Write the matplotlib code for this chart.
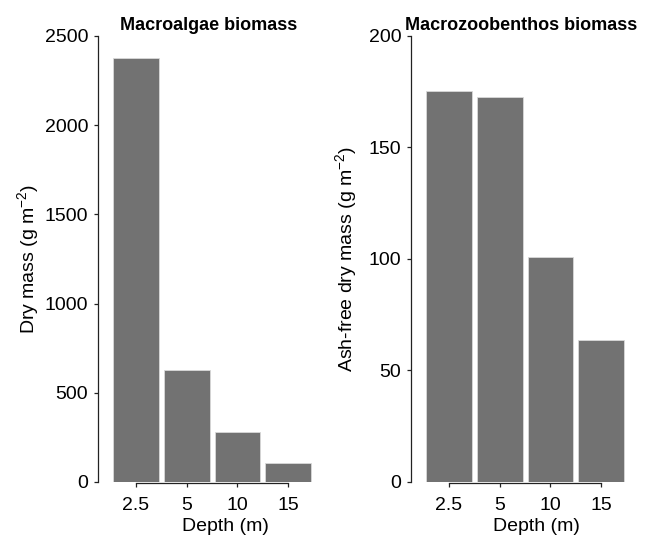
import numpy as np
import matplotlib
matplotlib.use("Agg")
import matplotlib.pyplot as plt

plt.rcParams['font.family'] = ['Liberation Sans', 'DejaVu Sans']
plt.rcParams['mathtext.fontset'] = 'custom'
plt.rcParams['mathtext.rm'] = 'Liberation Sans'
plt.rcParams['mathtext.it'] = 'Liberation Sans:italic'

depths = ["2.5", "5", "10", "15"]
algae = [2375, 625, 278, 107]
zoobenthos = [175.5, 172.5, 101, 63.5]

fig = plt.figure(figsize=(6.5, 5.39), dpi=100)
ax1 = fig.add_axes([0.1508, 0.1058, 0.3392, 0.8275])
ax2 = fig.add_axes([0.6323, 0.1058, 0.3392, 0.8275])

panels = [
    (ax1, algae, 2500, [0, 500, 1000, 1500, 2000, 2500], "Dry mass (g m$^{-2}$)", "Macroalgae biomass", -0.258, 0.58),
    (ax2, zoobenthos, 200, [0, 50, 100, 150, 200], "Ash-free dry mass (g m$^{-2}$)", "Macrozoobenthos biomass", -0.236, 0.568),
]

x = np.arange(len(depths))
for ax, vals, top, yt, ylab, title, ylx, xlx in panels:
    ax.bar(x, vals, width=0.9, color="#727272", edgecolor="#d9d9d9", linewidth=0.6)
    ax.set_xlim(-0.75, 3.6)
    ax.set_ylim(0, top)
    ax.set_yticks(yt)
    ax.set_xticks(x)
    ax.set_xticklabels(depths)
    ax.spines['top'].set_visible(False)
    ax.spines['right'].set_visible(False)
    ax.spines['left'].set_bounds(0, top)
    ax.spines['bottom'].set_bounds(0, 3)
    ax.spines['bottom'].set_position(('outward', 1))
    for s in ('left', 'bottom'):
        ax.spines[s].set_linewidth(0.9)
        ax.spines[s].set_color("#222222")
    ax.tick_params(axis='both', direction='out', length=3, width=0.9, color="#222222", labelsize=14)
    ax.tick_params(axis='y', pad=4)
    ax.tick_params(axis='x', pad=7)
    ax.set_ylabel(ylab, fontsize=14)
    ax.yaxis.set_label_coords(ylx, 0.5)
    ax.set_xlabel("Depth (m)", fontsize=14)
    ax.xaxis.set_label_coords(xlx, -0.081)
    ax.set_title(title, fontsize=13, fontweight='bold', pad=4)

fig.savefig("out.png", dpi=100)
